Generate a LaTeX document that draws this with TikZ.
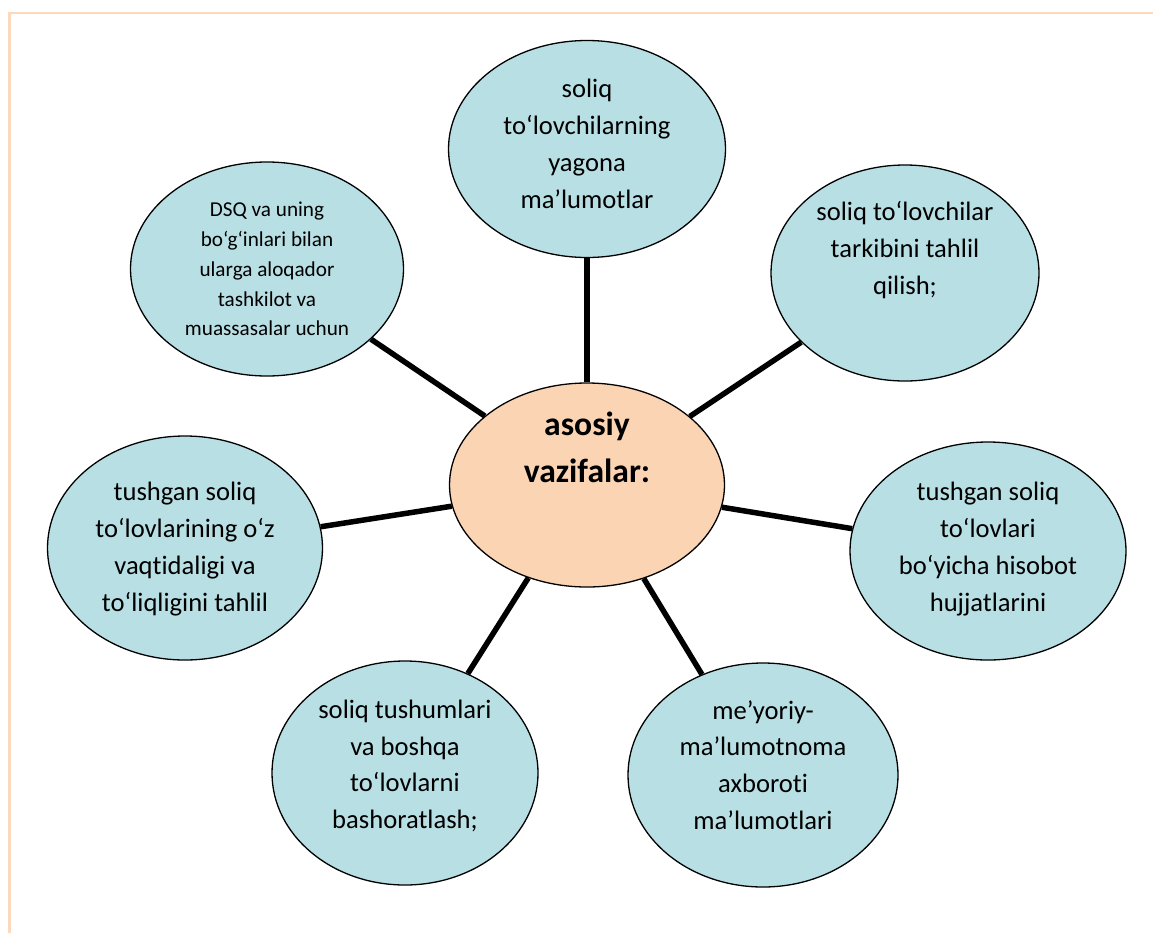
\documentclass[tikz,border=0pt]{standalone}
\usepackage{fontspec}
\setmainfont{Carlito}[Ligatures=NoCommon]
\usetikzlibrary{shapes.geometric}
\definecolor{bubble}{HTML}{B8DFE4}
\definecolor{peach}{HTML}{FBD4B4}
\definecolor{framec}{HTML}{FCD9BC}
\tikzset{
  leaf/.style={ellipse, draw=black, line width=1.3pt, fill=bubble, inner sep=0pt},
  hub/.style={ellipse, draw=black, line width=1.3pt, fill=peach, inner sep=0pt},
  conn/.style={draw=black, line width=5.5pt},
  txt/.style={align=center, inner sep=0pt, font=\fontsize{26.6}{36.8}\selectfont},
  smalltxt/.style={align=center, inner sep=0pt, font=\fontsize{21.2}{29.8}\selectfont},
  hubtxt/.style={align=center, inner sep=0pt, font=\bfseries\fontsize{33.6}{47}\selectfont}
}
\begin{document}
\begin{tikzpicture}[x=1pt,y=-1pt]
\useasboundingbox (0,0) rectangle (1153,932);
\begin{scope}
\clip (0,0) rectangle (1153,932);
\draw[framec, line width=2.5pt] (9.5,13) rectangle (1170,950);
\end{scope}
% ellipses
\node[hub, minimum width=275pt, minimum height=204pt] (c) at (587,485) {};
\node[leaf, minimum width=277pt, minimum height=217pt] (nT) at (587,149) {};
\node[leaf, minimum width=273pt, minimum height=214pt] (nUL) at (267,269) {};
\node[leaf, minimum width=268pt, minimum height=216pt] (nUR) at (905,273) {};
\node[leaf, minimum width=275pt, minimum height=224pt] (nL) at (185,548) {};
\node[leaf, minimum width=276pt, minimum height=218pt] (nR) at (988,551) {};
\node[leaf, minimum width=266pt, minimum height=224pt] (nBL) at (405,773) {};
\node[leaf, minimum width=270pt, minimum height=224pt] (nBR) at (763,775) {};
% connectors
\draw[conn] (c) -- (nT);
\draw[conn] (c) -- (nUL);
\draw[conn] (c) -- (nUR);
\draw[conn] (c) -- (nL);
\draw[conn] (c) -- (nR);
\draw[conn] (c) -- (nBL);
\draw[conn] (c) -- (nBR);
% texts
\node[hubtxt] (tc) at (587,447) {asosiy\\vazifalar:};
\node[txt] (tT) at (587,144) {soliq\\to‘lovchilarning\\yagona\\ma’lumotlar};
\node[smalltxt] (tUL) at (267,269) {DSQ va uning\\bo‘g‘inlari bilan\\ularga aloqador\\tashkilot va\\muassasalar uchun};
\node[txt] (tUR) at (905,250) {soliq to‘lovchilar\\tarkibini tahlil\\qilish;};
\node[txt] (tL) at (185,549) {tushgan soliq\\to‘lovlarining o‘z\\vaqtidaligi va\\to‘liqligini tahlil};
\node[txt] (tR) at (988,549) {tushgan soliq\\to‘lovlari\\bo‘yicha hisobot\\hujjatlarini};
\node[txt] (tBL) at (405,766) {soliq tushumlari\\va boshqa\\to‘lovlarni\\bashoratlash;};
\node[txt] (tBR) at (763,765) {me’yoriy-\\ma’lumotnoma\\axboroti\\ma’lumotlari};
\end{tikzpicture}
\end{document}
